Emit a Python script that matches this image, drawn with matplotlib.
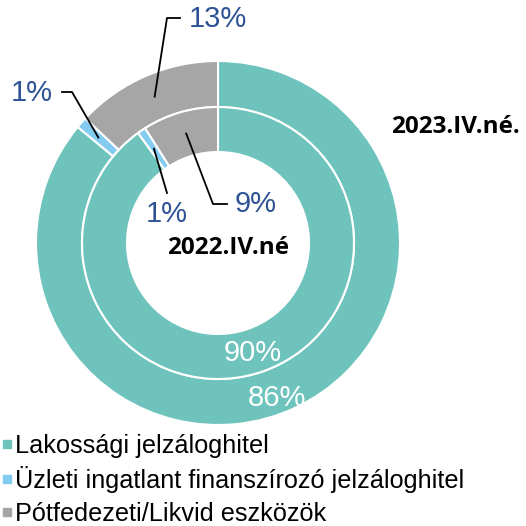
import numpy as np
import matplotlib.pyplot as plt
from matplotlib.lines import Line2D

categories = ['Lakossági jelzáloghitel',
              'Üzleti ingatlant finanszírozó jelzáloghitel',
              'Pótfedezeti/Likvid eszközök']
share_2023 = [86, 1, 13]   # kulso gyuru
share_2022 = [90, 1, 9]    # belso gyuru
colors = ['#6EC3BD', '#83CBF0', '#A6A6A6']
label_blue = '#2E5395'

W = H = 526
plt.rcParams['font.family'] = ['Liberation Sans', 'DejaVu Sans']

fig = plt.figure(figsize=(5.26, 5.26), dpi=100)
ax = fig.add_axes([0, 0, 1, 1])

cx, cy = 218, H - 243
r_out, r_mid, r_in = 182, 137, 91

def wedge_point(w, r):
    # kozepso szog a szeletre, adott sugaron
    a = np.deg2rad((w.theta1 + w.theta2) / 2)
    return cx + r * np.cos(a), cy + r * np.sin(a)

outer, _ = ax.pie(share_2023, radius=r_out, center=(cx, cy), colors=colors,
                  startangle=90, counterclock=False,
                  wedgeprops=dict(width=r_out - r_mid + 1, edgecolor='white', linewidth=1.5))
inner, _ = ax.pie(share_2022, radius=r_mid - 1, center=(cx, cy), colors=colors,
                  startangle=90, counterclock=False,
                  wedgeprops=dict(width=r_mid - 1 - r_in, edgecolor='white', linewidth=1.5))

ax.set_xlim(0, W)
ax.set_ylim(0, H)
ax.set_aspect('equal')
ax.axis('off')

ro_lab = (r_out + r_mid) / 2
ri_lab = (r_mid + r_in) / 2
pct = dict(fontsize=21, color=label_blue)

# 13% (kulso, szurke)
x0, y0 = wedge_point(outer[2], ro_lab)
ax.plot([x0, 167, 180], [y0, H - 18, H - 18], color='black', lw=1.3)
ax.text(189, H - 19, f'{share_2023[2]}%', ha='left', va='center', **pct)

# 1% (kulso, vilagoskek)
x0, y0 = wedge_point(outer[1], ro_lab)
ax.plot([x0, 72, 62], [y0, H - 92, H - 92], color='black', lw=1.3)
ax.text(53, H - 93, f'{share_2023[1]}%', ha='right', va='center', **pct)

# 1% (belso, vilagoskek)
x0, y0 = wedge_point(inner[1], ri_lab)
ax.plot([x0, 167], [y0, H - 193], color='black', lw=1.3)
ax.text(167, H - 214, f'{share_2022[1]}%', ha='center', va='center', **pct)

# 9% (belso, szurke)
x0, y0 = wedge_point(inner[2], ri_lab)
ax.plot([x0, 213, 227], [y0, H - 204, H - 204], color='black', lw=1.3)
ax.text(235, H - 204, f'{share_2022[2]}%', ha='left', va='center', **pct)

# feher cimkek a nagy szeleteken
ax.text(253, H - 353, f'{share_2022[0]}%', ha='center', va='center', fontsize=21, color='white')
ax.text(277, H - 398, f'{share_2023[0]}%', ha='center', va='center', fontsize=21, color='white')

ax.text(455, H - 127, '2023.IV.né.', ha='center', va='center', fontsize=17.5,
        fontweight='bold', family=['Open Sans', 'DejaVu Sans'])
ax.text(228, H - 248, '2022.IV.né', ha='center', va='center', fontsize=17.5,
        fontweight='bold', family=['Open Sans', 'DejaVu Sans'])

handles = [Line2D([], [], marker='s', ls='none', markersize=5.2, color=c) for c in colors]
fig.legend(handles, categories, loc='upper left', bbox_to_anchor=(2 / W, 1 - 434 / H),
           frameon=False, fontsize=18.2, handlelength=0.4, handletextpad=0.1,
           labelspacing=0.33, borderpad=0, borderaxespad=0)

fig.savefig('out.png', dpi=100)
